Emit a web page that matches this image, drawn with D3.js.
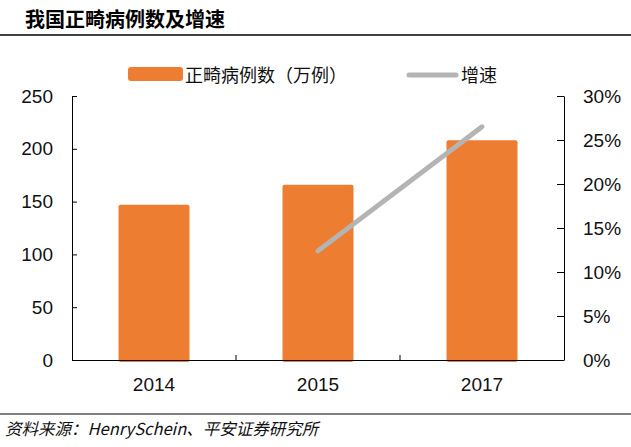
<!DOCTYPE html>
<html><head><meta charset="utf-8">
<script src="https://cdn.jsdelivr.net/npm/d3@7"></script>
<style>
body{margin:0;background:#fff;}
svg{display:block;}
</style></head>
<body>
<svg id="c" width="631" height="447"></svg>
<script>
const categories = ["2014", "2015", "2017"];
const cases = [147, 166, 208];           // 正畸病例数（万例）
const growthYears = ["2015", "2017"];
const growth = [0.124, 0.265];           // 增速
const leftTicks = [0, 50, 100, 150, 200, 250];
const rightTicks = [0, 0.05, 0.10, 0.15, 0.20, 0.25, 0.30];

const svg = d3.select("#c");
const L = 72, R = 564, T = 96, B = 360;
const numFont = "'Liberation Sans', Arial, sans-serif";
const cjkFont = "'Noto Sans CJK SC', sans-serif";

// title
svg.append("text").attr("x", 25).attr("y", 27)
  .attr("font-family", cjkFont).attr("font-weight", "bold").attr("font-size", 20)
  .attr("fill", "#000").text("我国正畸病例数及增速");
svg.append("line").attr("x1", 0).attr("x2", 631).attr("y1", 35).attr("y2", 35)
  .attr("stroke", "#000").attr("stroke-width", 1.5);

const x = d3.scaleBand().domain(categories).range([L, R]).paddingInner(0.567).paddingOuter(0.2835);
const y = d3.scaleLinear().domain([0, 250]).range([B, T]);
const y2 = d3.scaleLinear().domain([0, 0.30]).range([B, T]);

// bars
svg.append("g").selectAll("rect").data(cases).join("rect")
  .attr("x", (d, i) => x(categories[i]))
  .attr("y", d => y(d))
  .attr("width", x.bandwidth())
  .attr("height", d => y(0) - y(d) + 2)
  .attr("rx", 2)
  .attr("fill", "#ED7D31");

// left axis
const gl = svg.append("g").attr("transform", `translate(${L},0)`)
  .call(d3.axisLeft(y).tickValues(leftTicks).tickSize(-5).tickPadding(19).tickSizeOuter(0));
gl.select(".domain").attr("stroke", "#000");
gl.selectAll(".tick line").attr("stroke", "#000");
gl.selectAll("text").attr("font-family", numFont).attr("font-size", 19).attr("fill", "#111");

// right axis
const gr = svg.append("g").attr("transform", `translate(${R},0)`)
  .call(d3.axisRight(y2).tickValues(rightTicks).tickFormat(d3.format(".0%")).tickSize(-7).tickPadding(19).tickSizeOuter(0));
gr.select(".domain").attr("stroke", "#000");
gr.selectAll(".tick line").attr("stroke", "#000");
gr.selectAll("text").attr("font-family", numFont).attr("font-size", 19).attr("fill", "#111");

// x axis
svg.append("line").attr("x1", L).attr("x2", R).attr("y1", B + 0.5).attr("y2", B + 0.5).attr("stroke", "#000");
const step = x.step();
const bounds = categories.slice(1).map((c, i) => x(c) - (step - x.bandwidth()) / 2);
svg.append("g").selectAll("line").data(bounds).join("line")
  .attr("x1", d => d).attr("x2", d => d).attr("y1", B).attr("y2", B - 5).attr("stroke", "#000");
svg.append("g").selectAll("text").data(categories).join("text")
  .attr("x", d => x(d) + x.bandwidth() / 2).attr("y", 391)
  .attr("text-anchor", "middle").attr("font-family", numFont).attr("font-size", 19).attr("fill", "#111")
  .text(d => d);

// growth line
const line = d3.line().x((d, i) => x(growthYears[i]) + x.bandwidth() / 2).y(d => y2(d));
svg.append("path").datum(growth).attr("d", line)
  .attr("fill", "none").attr("stroke", "#B4B4B4").attr("stroke-width", 5).attr("stroke-linecap", "round");

// legend
svg.append("rect").attr("x", 128).attr("y", 67).attr("width", 55).attr("height", 14).attr("rx", 3).attr("fill", "#ED7D31");
svg.append("text").attr("x", 185).attr("y", 82).attr("font-family", cjkFont).attr("font-size", 18).attr("fill", "#111")
  .text("正畸病例数（万例）");
svg.append("line").attr("x1", 409).attr("x2", 456).attr("y1", 75).attr("y2", 75)
  .attr("stroke", "#B4B4B4").attr("stroke-width", 5).attr("stroke-linecap", "round");
svg.append("text").attr("x", 461).attr("y", 82).attr("font-family", cjkFont).attr("font-size", 18).attr("fill", "#111")
  .text("增速");

// source
svg.append("line").attr("x1", 0).attr("x2", 631).attr("y1", 414).attr("y2", 414).attr("stroke", "#000").attr("stroke-width", 1.2);
svg.append("text").attr("x", 5).attr("y", 435).attr("font-family", cjkFont).attr("font-style", "italic").attr("font-size", 16.5).attr("fill", "#111")
  .text("资料来源：HenrySchein、平安证券研究所");
</script>
</body></html>
